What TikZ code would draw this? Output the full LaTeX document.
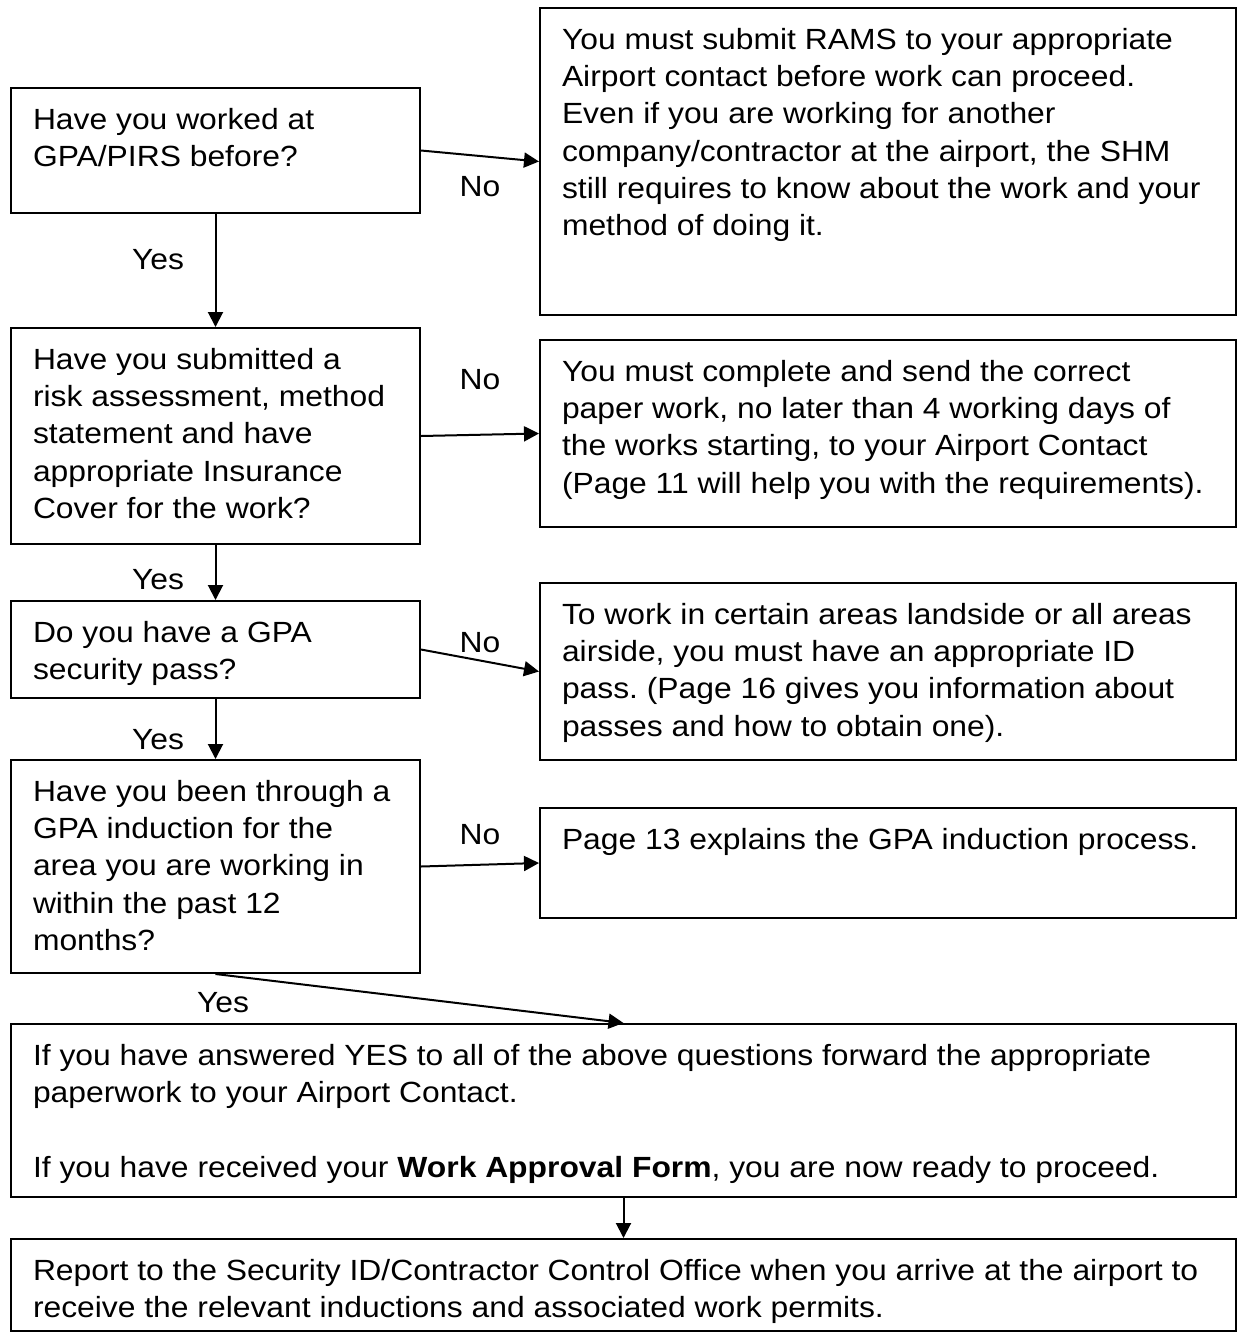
\documentclass[tikz,border=0pt]{standalone}
\usepackage{fontspec}
\setmainfont[FakeStretch=1.09]{Liberation Sans}
\usepackage{tikz}
\usetikzlibrary{arrows.meta}
\usetikzlibrary{positioning}
\pgfdeclarelayer{edgelayer}
\pgfdeclarelayer{nodelayer}
\pgfsetlayers{edgelayer,nodelayer,main}
\frenchspacing
\tikzstyle{none}=[inner sep=0mm]
\tikzstyle{every picture}=[x=0.5pt,y=-0.5pt]
\tikzstyle{txt}=[font=\fontsize{14.6pt}{18.6pt}\selectfont]
\tikzstyle{box}=[txt,draw=black,line width=1pt,anchor=north west,inner xsep=11pt,inner ysep=0pt]
\tikzstyle{lbl}=[none,txt]
\tikzstyle{diredge}=[line width=1pt,-{Triangle[length=7.5pt,width=7.5pt]}]
% top aligned text: width, height, text
\newcommand{\boxtext}[3]{\parbox[t][#2][t]{#1}{\raggedright\rule{0pt}{20.75pt}#3}}

\begin{document}
\begin{tikzpicture}
	\useasboundingbox (0, 0) rectangle (1238, 1334);
	\begin{pgfonlayer}{nodelayer}
		\node [style=box] (q1) at (10, 87) {\boxtext{182.5pt}{62.5pt}{Have you worked at\\GPA/PIRS before?}};
		\node [style=box] (a1) at (539, 7) {\boxtext{326pt}{153.5pt}{You must submit RAMS to your appropriate\\Airport contact before work can proceed.\\Even if you are working for another\\company/contractor at the airport, the SHM\\still requires to know about the work and your\\method of doing it.}};
		\node [style=box] (q2) at (10, 327) {\boxtext{182.5pt}{108pt}{Have you submitted a\\risk assessment, method\\statement and have\\appropriate Insurance\\Cover for the work?}};
		\node [style=box] (a2) at (539, 339) {\boxtext{326pt}{93.5pt}{You must complete and send the correct\\paper work, no later than 4 working days of\\the works starting, to your Airport Contact\\(Page 11 will help you with the requirements).}};
		\node [style=box] (q3) at (10, 600) {\boxtext{182.5pt}{48.5pt}{Do you have a GPA\\security pass?}};
		\node [style=box] (a3) at (539, 582) {\boxtext{326pt}{88.5pt}{To work in certain areas landside or all areas\\airside, you must have an appropriate ID\\pass. (Page 16 gives you information about\\passes and how to obtain one).}};
		\node [style=box] (q4) at (10, 759) {\boxtext{182.5pt}{106.5pt}{Have you been through a\\GPA induction for the\\area you are working in\\within the past 12\\months?}};
		\node [style=box] (a4) at (539, 807) {\boxtext{326pt}{55pt}{Page 13 explains the GPA induction process.}};
		\node [style=box] (fwd) at (10, 1023) {\boxtext{590.5pt}{86.5pt}{If you have answered YES to all of the above questions forward the appropriate\\paperwork to your Airport Contact.\\[18.6pt]If you have received your \textbf{Work Approval Form}, you are now ready to proceed.}};
		\node [style=box] (rep) at (10, 1238) {\boxtext{590.5pt}{46pt}{Report to the Security ID/Contractor Control Office when you arrive at the airport to\\receive the relevant inductions and associated work permits.}};
		\node [style=lbl] (no1) at (480, 187) {No};
		\node [style=lbl] (no2) at (480, 380) {No};
		\node [style=lbl] (no3) at (480, 643) {No};
		\node [style=lbl] (no4) at (480, 835) {No};
		\node [style=lbl] (yes1) at (158, 260) {Yes};
		\node [style=lbl] (yes2) at (158, 580) {Yes};
		\node [style=lbl] (yes3) at (158, 740) {Yes};
		\node [style=lbl] (yes4) at (223, 1003) {Yes};
	\end{pgfonlayer}
	\begin{pgfonlayer}{edgelayer}
		\draw [style=diredge] (q1.east) to (a1.west);
		\draw [style=diredge] (q2.east) to (a2.west);
		\draw [style=diredge] (q3.east) to (a3.west);
		\draw [style=diredge] (q4.east) to (a4.west);
		\draw [style=diredge] (q1.south) to (q2.north);
		\draw [style=diredge] (q2.south) to (q3.north);
		\draw [style=diredge] (q3.south) to (q4.north);
		\draw [style=diredge] (q4.south) to (fwd.north);
		\draw [style=diredge] (fwd.south) to (rep.north);
	\end{pgfonlayer}
\end{tikzpicture}
\end{document}
